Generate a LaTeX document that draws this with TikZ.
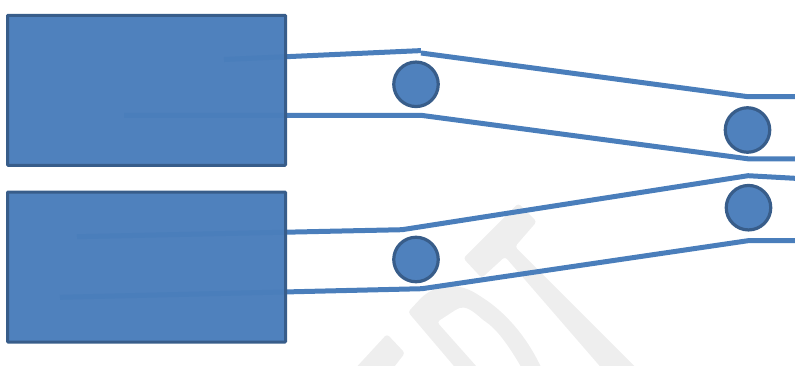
\documentclass[tikz,border=0pt]{standalone}
\definecolor{fillblue}{HTML}{4F81BD}
\definecolor{edgeblue}{HTML}{385D8A}
\definecolor{lineblue}{HTML}{4A7EBB}
\definecolor{mark}{HTML}{EEEEEE}
\tikzset{
  block/.style={rectangle,fill=fillblue,inner sep=0pt,outer sep=0pt,minimum width=278pt,minimum height=150pt},
  blockedge/.style={draw=edgeblue,line width=3pt,rounded corners=0.8pt},
  roller/.style={circle,fill=fillblue,draw=edgeblue,line width=3.2pt,inner sep=0pt,outer sep=0pt,minimum size=44.5pt},
  belt/.style={draw=lineblue,line width=5pt},
  wm/.style={fill=mark,rounded corners=3pt}
}
\begin{document}
\begin{tikzpicture}[x=1pt,y=-1pt]
\useasboundingbox (0,0) rectangle (795,370);
% watermark
\begin{scope}
\clip (0,0) rectangle (795,365);
\fill[wm] (518.3,203.3) -- (536.7,221.7) -- (515,246.7) -- (650,381.7) -- (630,401) -- (505,256.7) -- (481.7,278) -- (463.3,258.3) -- cycle;
\fill[wm] (408,312) -- (422,297) .. controls (440,283) and (460,283) .. (480,296) .. controls (505,312) and (525,335) .. (540,365) -- (550,385) -- (530,385) -- (520,365) .. controls (505,340) and (495,328) .. (483,320) .. controls (472,310) and (465,306) .. (457,309) -- (437,322) -- (493,385) -- (470,385) -- cycle;
\fill[wm] (387,334) -- (405,353) -- (380,385) -- (340,385) -- cycle;
\end{scope}
% blocks
\node[block] (r1) at (146.5,90.3) {};
\node[block] (r2) at (146.5,267) {};
% belt points
\coordinate (a0) at (224,59.5); \coordinate (a1) at (421,50.6); \coordinate (a2) at (421,53); \coordinate (a3) at (748,96.7); \coordinate (a4) at (795,96.7);
\coordinate (b0) at (124,115.3); \coordinate (b1) at (421,115.3); \coordinate (b2) at (748,158.8); \coordinate (b3) at (795,158.8);
\coordinate (c0) at (77,236.7); \coordinate (c1) at (402,229.7); \coordinate (c2) at (748,175.7); \coordinate (c3) at (795,178.3);
\coordinate (d0) at (60,297.3); \coordinate (d1) at (422,288.7); \coordinate (d2) at (748,240.7); \coordinate (d3) at (795,240.7);
\draw[belt] (a0) -- (a1);
\draw[belt] (a2) -- (a3) -- (a4);
\draw[belt] (b0) -- (b1) -- (b2) -- (b3);
\draw[belt] (c0) -- (c1) -- (c2) -- (c3);
\draw[belt] (d0) -- (d1) -- (d2) -- (d3);
\draw[blockedge] (r1.south west) rectangle (r1.north east);
\draw[blockedge] (r2.south west) rectangle (r2.north east);
% rollers
\node[roller] (k1) at (416,84.3) {};
\node[roller] (k2) at (416,259.5) {};
\node[roller] (k3) at (747.5,130) {};
\node[roller] (k4) at (748.5,207.7) {};
\end{tikzpicture}
\end{document}
